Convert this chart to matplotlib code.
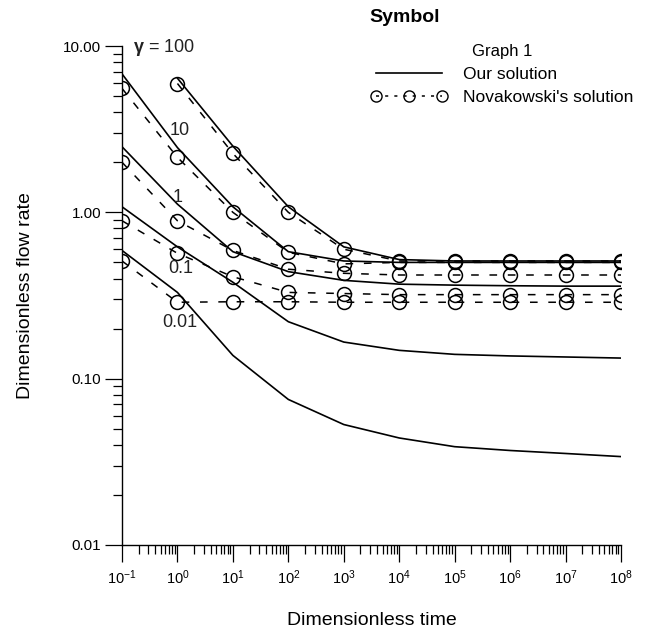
import numpy as np
import matplotlib
matplotlib.use("Agg")
import matplotlib.pyplot as plt
from matplotlib.lines import Line2D
from matplotlib.ticker import LogLocator, FuncFormatter, NullFormatter

plt.rcParams['font.family'] = ['Liberation Sans', 'DejaVu Sans']
plt.rcParams['mathtext.fontset'] = 'custom'
plt.rcParams['mathtext.rm'] = 'Liberation Sans'
plt.rcParams['mathtext.it'] = 'Liberation Sans:italic'
plt.rcParams['mathtext.bf'] = 'Liberation Sans:bold'
plt.rcParams['axes.unicode_minus'] = False

# dimensionless time (decades)
t_full = [1e-1, 1e0, 1e1, 1e2, 1e3, 1e4, 1e5, 1e6, 1e7, 1e8]
t_from1 = [1e0, 1e1, 1e2, 1e3, 1e4, 1e5, 1e6, 1e7, 1e8]

# our solution (solid lines)
ours_g100 = [6.4, 2.5, 1.08, 0.62, 0.52, 0.51, 0.51, 0.51, 0.51]
ours_g10 = [6.8, 2.45, 1.08, 0.58, 0.51, 0.50, 0.50, 0.50, 0.50, 0.50]
ours_g1 = [2.48, 1.12, 0.58, 0.44, 0.39, 0.37, 0.365, 0.362, 0.36, 0.36]
ours_g01 = [1.08, 0.62, 0.38, 0.22, 0.166, 0.148, 0.14, 0.137, 0.135, 0.133]
ours_g001 = [0.59, 0.33, 0.138, 0.075, 0.053, 0.044, 0.039, 0.037, 0.0355, 0.034]

# novakowski's solution (dashed + circles)
nova_g100 = [5.95, 2.26, 1.0, 0.60, 0.51, 0.51, 0.51, 0.51, 0.51]
nova_g10 = [5.56, 2.14, 1.0, 0.575, 0.49, 0.50, 0.50, 0.50, 0.50, 0.50]
nova_g1 = [2.0, 0.89, 0.59, 0.455, 0.43, 0.42, 0.42, 0.42, 0.42, 0.42]
nova_g01 = [0.89, 0.567, 0.41, 0.33, 0.325, 0.32, 0.32, 0.32, 0.32, 0.32]
nova_g001 = [0.51, 0.288, 0.29, 0.29, 0.288, 0.288, 0.288, 0.288, 0.288, 0.288]

gamma_labels = ['$\\mathbf{\\gamma}$ = 100', '10', '1', '0.1', '0.01']
gamma_label_pos = [(0.155, 9.8), (1.1, 3.1), (1.0, 1.23), (1.15, 0.46), (1.1, 0.218)]

fig = plt.figure(figsize=(6.52, 6.30), dpi=100)
ax = fig.add_axes([122/652, 1 - 545/630, (621 - 122)/652, (545 - 46)/630])

ours = [(t_from1, ours_g100), (t_full, ours_g10), (t_full, ours_g1),
        (t_full, ours_g01), (t_full, ours_g001)]
nova = [(t_from1, nova_g100), (t_full, nova_g10), (t_full, nova_g1),
        (t_full, nova_g01), (t_full, nova_g001)]

for t, q in ours:
    ax.plot(t, q, color='k', lw=1.2, zorder=3)
for t, q in nova:
    ax.plot(t, q, color='k', lw=1.1, dashes=(5, 7), marker='o', ms=10,
            mfc='none', mec='k', mew=1.1, zorder=2)

for txt, (x, y) in zip(gamma_labels, gamma_label_pos):
    ax.text(x, y, txt, fontsize=13, ha='left' if txt.startswith('$') else 'center',
            va='center', color='#222222')

ax.set_xscale('log')
ax.set_yscale('log')
ax.set_xlim(1e-1, 1e8)
ax.set_ylim(0.01, 10)

ax.xaxis.set_major_locator(LogLocator(base=10, numticks=20))
ax.xaxis.set_minor_locator(LogLocator(base=10, subs=np.arange(2, 10), numticks=20))
ax.xaxis.set_minor_formatter(NullFormatter())
ax.yaxis.set_major_locator(LogLocator(base=10, numticks=10))
ax.yaxis.set_minor_locator(LogLocator(base=10, subs=np.arange(2, 10), numticks=10))
ax.yaxis.set_major_formatter(FuncFormatter(lambda v, p: '%.2f' % v))
ax.yaxis.set_minor_formatter(NullFormatter())

for s in ['top', 'right']:
    ax.spines[s].set_visible(False)
for s in ['left', 'bottom']:
    ax.spines[s].set_linewidth(1.0)

ax.tick_params(which='major', direction='out', length=12, width=0.9)
ax.tick_params(axis='y', which='major', pad=3, labelsize=11)
ax.tick_params(axis='x', which='major', pad=5, labelsize=10.5)
ax.tick_params(which='minor', direction='out', length=6.5, width=0.9)

ax.set_xlabel('Dimensionless time', fontsize=14, labelpad=18)
ax.set_ylabel('Dimensionless flow rate', fontsize=14, labelpad=21)

# legend
fig.text(405/652, 1 - 18/630, 'Symbol', fontsize=14, fontweight='bold', ha='center', va='center')
handles = [Line2D([], [], color='k', lw=1.2),
           Line2D([], [], color='k', lw=1.1, dashes=(2, 4), marker='o', ms=8,
                  mfc='none', mec='k')]
leg = fig.legend(handles, ['Our solution', "Novakowski's solution"], title='Graph 1',
                 loc='upper right', bbox_to_anchor=(642/652, 1 - 35/630),
                 frameon=False, fontsize=12.5, title_fontsize=12, numpoints=3,
                 handlelength=4.4, handletextpad=0.9, labelspacing=0.45, borderpad=0)

fig.savefig('out.png', dpi=100)
